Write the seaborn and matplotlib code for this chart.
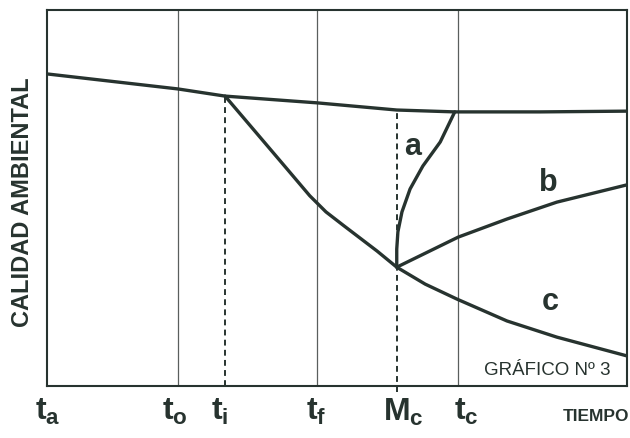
import matplotlib
matplotlib.use("Agg")
import matplotlib.pyplot as plt
import seaborn as sns
import pandas as pd

# ---------------- data ----------------
marker_labels = [r"$\mathbf{t}_\mathbf{a}$", r"$\mathbf{t}_\mathbf{o}$", r"$\mathbf{t}_\mathbf{i}$",
                 r"$\mathbf{t}_\mathbf{f}$", r"$\mathbf{M}_\mathbf{c}$", r"$\mathbf{t}_\mathbf{c}$"]
marker_x = [0, 22.6, 30.7, 46.6, 60.3, 70.9]

base_x = [0, 22.6, 30.7, 46.6, 60.3, 70.3, 85.0, 100]
base_y = [83.0, 79.0, 77.1, 75.3, 73.4, 72.9, 72.9, 73.1]

c_x = [30.7, 35.5, 41.4, 45.3, 48.1, 51.2, 56.9, 60.3, 65.2, 70.7, 79.3, 87.9, 100]
c_y = [77.1, 68.4, 57.7, 50.6, 46.3, 42.6, 35.9, 31.6, 27.1, 23.1, 17.3, 13.0, 8.0]

a_x = [60.3, 60.3, 60.5, 61.2, 62.6, 64.8, 67.8, 70.3]
a_y = [31.6, 36.4, 41.0, 46.3, 52.4, 58.5, 64.9, 72.9]

b_x = [60.3, 70.9, 79.3, 87.9, 100]
b_y = [31.6, 39.6, 44.4, 48.9, 53.5]

curve_labels = ["a", "b", "c"]
curve_label_x = [63.1, 86.4, 86.7]
curve_label_y = [63.8, 54.3, 22.6]

# ---------------- style ----------------
sns.set_style("white")
plt.rcParams["font.family"] = ["Liberation Sans", "DejaVu Sans"]
plt.rcParams["mathtext.fontset"] = "custom"
plt.rcParams["mathtext.bf"] = "Liberation Sans:bold"
plt.rcParams["mathtext.rm"] = "Liberation Sans"
plt.rcParams["mathtext.it"] = "Liberation Sans:italic"
plt.rcParams["lines.solid_joinstyle"] = "round"
plt.rcParams["lines.solid_capstyle"] = "round"

INK = "#27332f"
GRID = "#5a5f5d"

fig = plt.figure(figsize=(6.30, 4.39), dpi=100)
ax = fig.add_axes([47 / 630, 1 - 387 / 439, 580 / 630, 376 / 439])
ax.set_xlim(0, 100)
ax.set_ylim(0, 100)

# vertical reference lines
solid_idx = [1, 3, 5]
for i in solid_idx:
    ax.axvline(marker_x[i], color=GRID, lw=0.9, zorder=1)
ax.vlines(marker_x[2], 0, base_y[2], color=INK, lw=1.4, linestyles=(0, (3, 2.2)), zorder=1)
ax.vlines(marker_x[4], -1.5, base_y[4], color=INK, lw=1.4, linestyles=(0, (3, 2.2)), zorder=1,
          clip_on=False)

# curves
for xs, ys in [(base_x, base_y), (c_x, c_y), (a_x, a_y), (b_x, b_y)]:
    df = pd.DataFrame({"x": xs, "y": ys})
    sns.lineplot(data=df, x="x", y="y", sort=False, estimator=None, ax=ax,
                 color=INK, lw=2.4, zorder=3)

for lab, lx, ly in zip(curve_labels, curve_label_x, curve_label_y):
    ax.text(lx, ly, lab, fontsize=22, fontweight="bold", color=INK,
            ha="center", va="center")

ax.text(86.2, 4.3, "GRÁFICO Nº 3", fontsize=13.5, color=INK, ha="center", va="center")

# axes frame
for s in ax.spines.values():
    s.set_color(INK)
    s.set_linewidth(1.5)
ax.set_xticks([])
ax.set_yticks([])
ax.set_xlabel("")
ax.set_ylabel("")

# tick labels under the axis
label_shift = [-2.1, -2.8, -2.4, -1.9, -2.4, -0.8]
for lab, mx, sh in zip(marker_labels, marker_x, label_shift):
    ax.text(mx + sh, -2.6, lab, fontsize=23, color=INK, ha="left", va="top", clip_on=False)
ax.text(94.7, -7.8, "TIEMPO", fontsize=12.5, fontweight="bold", color=INK,
        ha="center", va="center", clip_on=False)

fig.text(23 / 630, 1 - 202 / 439, "CALIDAD AMBIENTAL", rotation=90, fontsize=17,
         fontweight="bold", color=INK, ha="center", va="center")

fig.savefig("out.png", dpi=100)
